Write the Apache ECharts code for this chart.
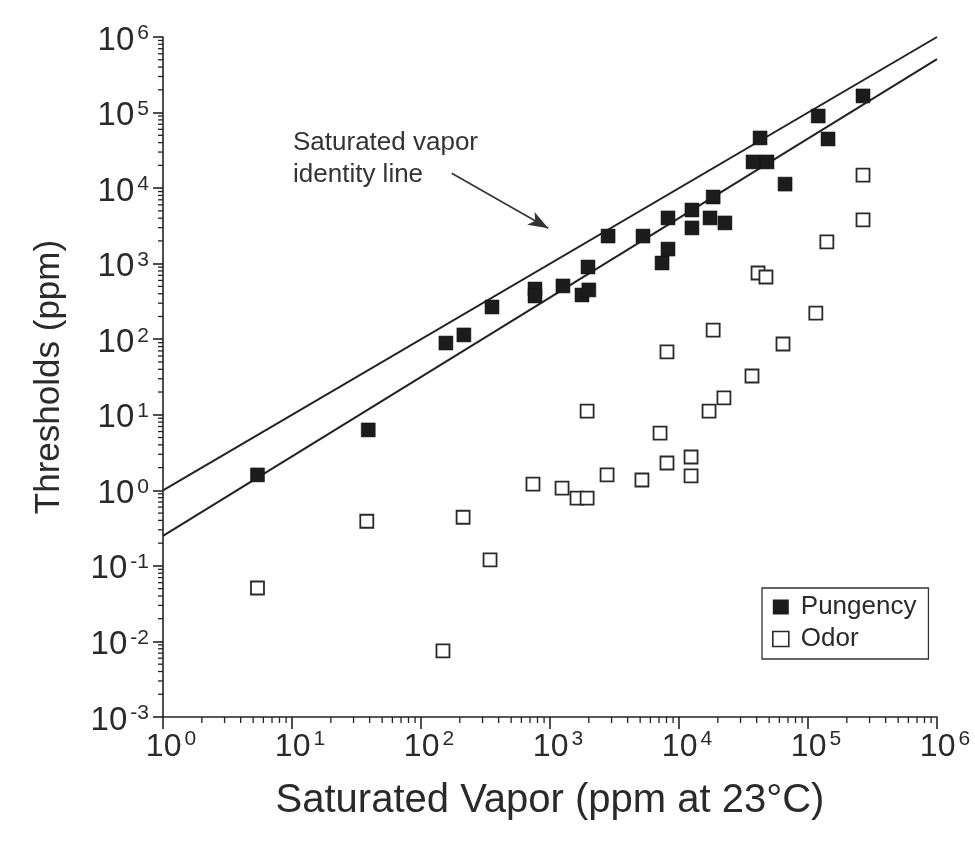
<!DOCTYPE html>
<html><head><meta charset="utf-8">
<script src="https://cdn.jsdelivr.net/npm/echarts@6/dist/echarts.min.js"></script>
<style>html,body{margin:0;padding:0;background:#fff}#c{width:975px;height:850px}</style>
</head><body><div id="c"></div>
<script>
// ---- data ----
const pungencyX = [5.4, 39, 156, 215, 355, 765, 765, 1260, 1770, 2000, 1970, 2820, 5260, 7390, 8220, 8220, 12600, 12600, 18400, 17400, 22700, 42500, 37500, 48100, 66400, 120000, 143000, 267000];
const pungencyY = [1.6, 6.3, 89, 114, 267, 462, 373, 507, 385, 449, 904, 2320, 2320, 1020, 1560, 4030, 5130, 2970, 7630, 4030, 3460, 46100, 22200, 22200, 11300, 90000, 44700, 166000];
const odorX = [5.4, 38, 148, 212, 343, 738, 1240, 1620, 1940, 1940, 2770, 5160, 7130, 8070, 8070, 12400, 12400, 18400, 17100, 22300, 36800, 41000, 47200, 64000, 115000, 140000, 267000, 267000];
const odorY = [0.051, 0.39, 0.0075, 0.44, 0.12, 1.21, 1.07, 0.79, 0.79, 11.2, 1.6, 1.37, 5.7, 2.3, 68, 2.76, 1.55, 132, 11.2, 16.7, 32.6, 753, 666, 86.5, 222, 1940, 3790, 14900];
const identityX = [1, 1e6];
const identityY = [1, 1e6];
const lowerLineX = [1, 1e6];
const lowerLineY = [0.25, 5.1e5];
const arrowFrom = [173, 15700];
const arrowTo = [970, 2940];
const xTickExponents = [0, 1, 2, 3, 4, 5, 6];
const yTickExponents = [-3, -2, -1, 0, 1, 2, 3, 4, 5, 6];
const annotationLines = ['Saturated vapor', 'identity line'];
const seriesNames = ['Pungency', 'Odor'];
const xTitle = 'Saturated Vapor (ppm at 23\u00B0C)';
const yTitle = 'Thresholds (ppm)';

// ---- build ----
const FONT = '"Liberation Sans", Arial, Helvetica, sans-serif';
const TXT = '#2a2a2a';
const xMin = Math.pow(10, xTickExponents[0]), xMax = Math.pow(10, xTickExponents[xTickExponents.length - 1]);
const yMin = Math.pow(10, yTickExponents[0]), yMax = Math.pow(10, yTickExponents[yTickExponents.length - 1]);

function zip(a, b) { return a.map((v, i) => [v, b[i]]); }
function minorValues(exps) {
  const out = [];
  for (let i = 0; i < exps.length - 1; i++) for (let m = 2; m <= 9; m++) out.push(m * Math.pow(10, exps[i]));
  return out;
}
const xMinor = minorValues(xTickExponents).map(v => [v, yMin]);
const yMinor = minorValues(yTickExponents).map(v => [xMin, v]);

function expOf(v) { return Math.round(Math.log10(v)); }

const richX = {
  b: { fontSize: 32, fontFamily: FONT, color: TXT, lineHeight: 34, verticalAlign: 'bottom' },
  s: { fontSize: 21, fontFamily: FONT, color: TXT, lineHeight: 20, verticalAlign: 'top', padding: [0, 0, 24, 3] },
  pad: { width: 16 }
};
const richY = {
  b: { fontSize: 33, fontFamily: FONT, color: TXT, lineHeight: 34, verticalAlign: 'bottom' },
  s: { fontSize: 21, fontFamily: FONT, color: TXT, lineHeight: 20, verticalAlign: 'top', padding: [0, 0, 24, 3] }
};

const chart = echarts.init(document.getElementById('c'), null, { renderer: 'canvas' });
chart.setOption({
  animation: false,
  backgroundColor: '#fff',
  grid: { left: 163, right: 38, top: 37, bottom: 133, containLabel: false, outerBoundsMode: 'none' },
  legend: {
    data: [
      { name: seriesNames[0], icon: 'rect', itemStyle: { color: '#1c1c1c', borderWidth: 0 } },
      { name: seriesNames[1], icon: 'rect', itemStyle: { color: '#fff', borderColor: '#2a2a2a', borderWidth: 1.6 } }
    ],
    orient: 'vertical', left: 762, top: 588,
    itemWidth: 16, itemHeight: 15, itemGap: 6,
    padding: [6, 12, 7, 10],
    borderColor: '#333', borderWidth: 1.3, borderRadius: 0,
    textStyle: { fontSize: 26, fontFamily: FONT, color: TXT, padding: [0, 0, 0, 7] },
    selectedMode: false
  },
  xAxis: {
    type: 'log', logBase: 10, min: xMin, max: xMax, splitNumber: xTickExponents.length - 1,
    name: xTitle, nameLocation: 'middle', nameGap: 64,
    nameTextStyle: { fontSize: 40, fontFamily: FONT, color: TXT },
    axisLine: { lineStyle: { color: '#222', width: 1.6 } },
    axisTick: { inside: false, length: 12, lineStyle: { color: '#222', width: 1.6 } },
    minorTick: { show: false },
    splitLine: { show: false },
    axisLabel: {
      margin: 12, color: TXT,
      formatter: v => '{pad|}{b|10}{s|' + expOf(v) + '}',
      rich: richX
    }
  },
  yAxis: {
    type: 'log', logBase: 10, min: yMin, max: yMax, splitNumber: yTickExponents.length - 1,
    name: yTitle, nameLocation: 'middle', nameGap: 96, nameRotate: 90,
    nameTextStyle: { fontSize: 35, fontFamily: FONT, color: TXT },
    axisLine: { lineStyle: { color: '#222', width: 1.6 } },
    axisTick: { inside: false, length: 10, lineStyle: { color: '#222', width: 1.6 } },
    minorTick: { show: false },
    splitLine: { show: false },
    axisLabel: {
      margin: 14, color: TXT, padding: [6, 0, 0, 0],
      formatter: v => '{b|10}{s|' + expOf(v) + '}',
      rich: richY
    }
  },
  graphic: [
    { type: 'text', left: 293, top: 130, style: { text: annotationLines[0], font: '26px ' + FONT, fill: '#333' } },
    { type: 'text', left: 293, top: 162, style: { text: annotationLines[1], font: '26px ' + FONT, fill: '#333' } }
  ],
  series: [
    {
      type: 'custom', name: 'xminor', silent: true, clip: false, z: 1,
      data: xMinor,
      renderItem: (params, api) => {
        const p = api.coord([api.value(0), api.value(1)]);
        return { type: 'line', shape: { x1: p[0], y1: p[1], x2: p[0], y2: p[1] + 6 }, style: { stroke: '#222', lineWidth: 1.3 } };
      }
    },
    {
      type: 'custom', name: 'yminor', silent: true, clip: false, z: 1,
      data: yMinor,
      renderItem: (params, api) => {
        const p = api.coord([api.value(0), api.value(1)]);
        return { type: 'line', shape: { x1: p[0] - 5, y1: p[1], x2: p[0], y2: p[1] }, style: { stroke: '#222', lineWidth: 1.3 } };
      }
    },
    {
      type: 'line', name: 'identity', data: zip(identityX, identityY), showSymbol: false, silent: true, z: 2,
      lineStyle: { color: '#222', width: 2 },
      markLine: {
        silent: true, symbol: ['none', 'arrow'], symbolSize: [11, 20],
        label: { show: false },
        lineStyle: { color: '#333', width: 1.6, type: 'solid' },
        data: [[{ coord: arrowFrom }, { coord: arrowTo }]]
      }
    },
    {
      type: 'line', name: 'lower', data: zip(lowerLineX, lowerLineY), showSymbol: false, silent: true, z: 2,
      lineStyle: { color: '#222', width: 2 }
    },
    {
      type: 'scatter', name: seriesNames[1], data: zip(odorX, odorY), symbol: 'rect', symbolSize: 13, z: 3,
      itemStyle: { color: '#fff', borderColor: '#2a2a2a', borderWidth: 1.8, opacity: 1 }
    },
    {
      type: 'scatter', name: seriesNames[0], data: zip(pungencyX, pungencyY), symbol: 'rect', symbolSize: 14, z: 4,
      itemStyle: { color: '#1c1c1c', borderColor: '#111', borderWidth: 0.5, opacity: 1 }
    }
  ]
});
</script>
</body></html>
